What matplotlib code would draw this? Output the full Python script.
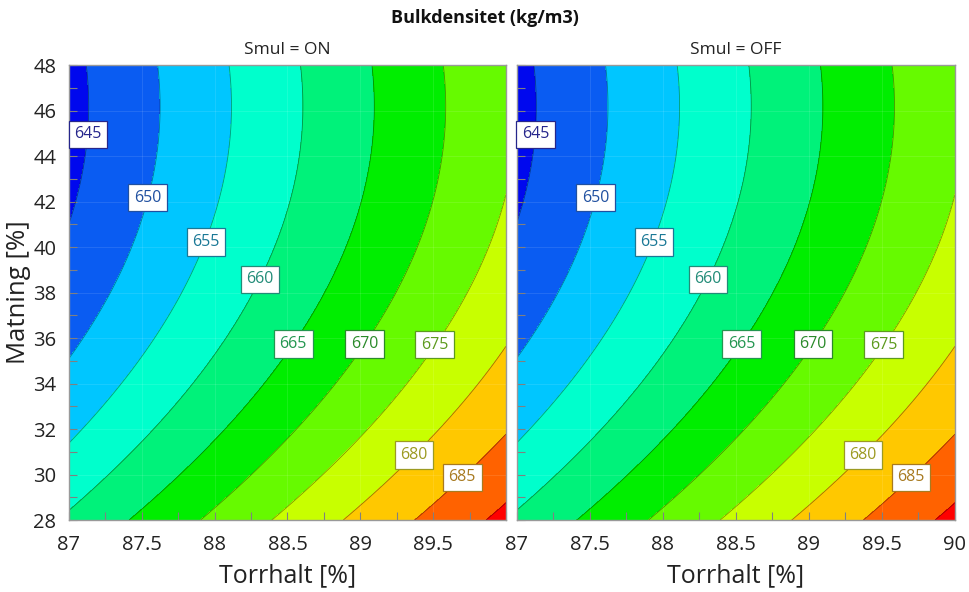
import numpy as np
import matplotlib
matplotlib.use("Agg")
import matplotlib.pyplot as plt
from matplotlib.colors import ListedColormap, BoundaryNorm
from matplotlib.ticker import MultipleLocator, FixedLocator, FormatStrFormatter

plt.rcParams['font.family'] = ['Open Sans', 'DejaVu Sans']

# -------------------------
# data: fitted response surface, coded factors
#   X = (Torrhalt - 88.5) / 1.5 , Y = (Matning - 38) / 10
# -------------------------
panels = ["Smul = ON", "Smul = OFF"]
b0 = [662.4, 662.4]      # intercept per Smul level
b_x = [15.3, 15.3]       # Torrhalt linear
b_y = [-8.5, -8.5]       # Matning linear
b_yy = [5.19, 5.19]      # Matning quadratic

torrhalt_range = [87, 90]
matning_range = [28, 48]

levels = [640, 645, 650, 655, 660, 665, 670, 675, 680, 685, 690, 695]
band_colors = ['#0008ee', '#0a5cf2', '#00c6ff', '#00ffcc', '#00f27a', '#00ee00',
               '#66fa00', '#c8ff00', '#ffc800', '#ff6200', '#ff0000']
label_levels = [645, 650, 655, 660, 665, 670, 675, 680, 685]
label_colors = ['#26268c', '#2050a0', '#1a7896', '#228c78', '#239650', '#2a8a2a',
                '#5c9a1e', '#9c9a22', '#a87a20']

# label placement (layout only)
label_pos = [(87.13, 44.95), (87.54, 42.17), (87.94, 40.22), (88.31, 38.58),
             (88.54, 35.74), (89.03, 35.74), (89.51, 35.70), (89.37, 30.86),
             (89.70, 29.88)]

# -------------------------
# grid for evaluating the model
# -------------------------
xs = np.linspace(torrhalt_range[0], torrhalt_range[1], 301)
ys = np.linspace(matning_range[0], matning_range[1], 301)
XX, YY = np.meshgrid(xs, ys)
Xc = (XX - 88.5) / 1.5
Yc = (YY - 38) / 10

cmap = ListedColormap(band_colors)
norm = BoundaryNorm(levels, cmap.N)

fig = plt.figure(figsize=(9.7, 5.92), dpi=100)
ax1 = fig.add_axes([0.0711, 0.1216, 0.4505, 0.7686])
ax2 = fig.add_axes([0.5325, 0.1216, 0.4520, 0.7686])

for i, ax in enumerate([ax1, ax2]):
    Z = b0[i] + b_x[i] * Xc + b_y[i] * Yc + b_yy[i] * Yc ** 2
    ax.contourf(XX, YY, Z, levels=levels, cmap=cmap, norm=norm)
    ax.contour(XX, YY, Z, levels=levels, colors='k', linewidths=0.6, alpha=0.4)

    for lev, col, (px, py) in zip(label_levels, label_colors, label_pos):
        ax.text(px, py, str(lev), color=col, fontsize=11.5, ha='center', va='center',
                bbox=dict(boxstyle='square,pad=0.35', fc='white', ec=col, lw=0.9))

    ax.set_xlim(torrhalt_range)
    ax.set_ylim(matning_range)
    ax.xaxis.set_major_locator(MultipleLocator(0.5))
    ax.xaxis.set_minor_locator(MultipleLocator(0.25))
    ax.yaxis.set_major_locator(MultipleLocator(2))
    ax.yaxis.set_minor_locator(MultipleLocator(1))
    ax.xaxis.set_major_formatter(FormatStrFormatter('%g'))
    ax.tick_params(which='both', direction='in', length=6, width=0.8,
                   color='#808080', labelsize=14.5, labelcolor='#222222')
    ax.tick_params(axis='x', pad=11)
    ax.tick_params(axis='y', pad=9)
    ax.grid(True, which='major', color='white', alpha=0.12, lw=0.6)
    for s in ax.spines.values():
        s.set_color('#999999')
        s.set_linewidth(1.0)
    ax.set_xlabel("Torrhalt [%]", fontsize=18, color='#222222', labelpad=6)
    ax.set_title(panels[i], fontsize=12.5, color='#222222', pad=8)

ax1.xaxis.set_major_locator(FixedLocator([87, 87.5, 88, 88.5, 89, 89.5]))
ax1.set_ylabel("Matning [%]", fontsize=18.5, color='#222222', labelpad=2)
ax2.tick_params(labelleft=False)

fig.text(0.5, 0.969, "Bulkdensitet (kg/m3)", ha='center', va='center',
         fontsize=13, fontweight='bold', color='#111111')

fig.savefig("out.png", dpi=100)
